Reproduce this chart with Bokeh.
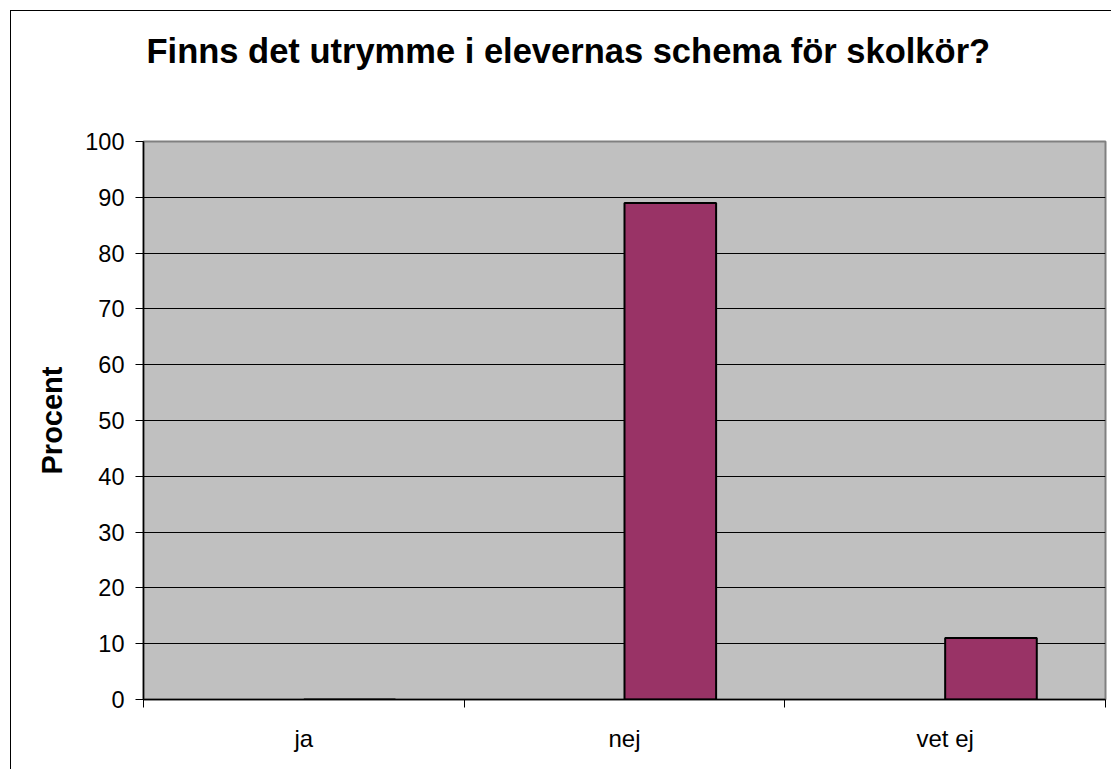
from bokeh.plotting import figure
from bokeh.models import Range1d, FixedTicker, ColumnDataSource, InlineStyleSheet, Title
from bokeh.transform import dodge
from bokeh.embed import file_html
from bokeh.resources import INLINE

title_text = "Finns det utrymme i elevernas schema för skolkör?"
categories = ["ja", "nej", "vet ej"]
percent = [0, 89, 11]
y_ticks = [0, 10, 20, 30, 40, 50, 60, 70, 80, 90, 100]
y_label = "Procent"

FONT = "Liberation Sans"
BAR_W = 0.2857

xs = [i + 0.5 for i in range(len(categories))]
src = ColumnDataSource(dict(x=xs, top=percent, cat=categories))

p = figure(width=1111, height=769, output_backend="svg", toolbar_location=None,
           x_range=Range1d(0, len(categories)), y_range=Range1d(0, 100),
           min_border_left=143, min_border_right=6, min_border_top=141, min_border_bottom=70)

p.background_fill_color = "#C0C0C0"
p.border_fill_color = "white"
p.outline_line_color = "#808080"
p.outline_line_width = 2

# bars sit in the right half of a two-slot cluster (first slot empty)
p.vbar(x=dodge("x", BAR_W / 2), top="top", width=BAR_W, bottom=0, source=src,
       fill_color="#993366", line_color="black", line_width=2)

# main title (outermost panel above the plot)
p.title.text = title_text
p.title.text_font = FONT
p.title.text_font_size = "34.5px"
p.title.text_font_style = "bold"
p.title.text_color = "black"
p.title.align = "left"
p.title.offset = 3
p.title.standoff = 0

# spacer between the plot area and the title
spacer = Title(text=" ", text_font_size="1px", standoff=69)
p.add_layout(spacer, "above")

# y axis
p.yaxis.ticker = FixedTicker(ticks=y_ticks)
p.yaxis.axis_label = y_label
p.yaxis.axis_label_text_font = FONT
p.yaxis.axis_label_text_font_size = "29px"
p.yaxis.axis_label_text_font_style = "bold"
p.yaxis.axis_label_text_color = "black"
p.yaxis.axis_label_standoff = 14
p.yaxis.major_label_text_font = FONT
p.yaxis.major_label_text_font_size = "23.5px"
p.yaxis.major_label_text_color = "black"
p.yaxis.major_label_standoff = 11
p.yaxis.major_tick_out = 8
p.yaxis.major_tick_in = 0
p.yaxis.minor_tick_line_color = None
p.yaxis.axis_line_color = "black"
p.yaxis.axis_line_width = 1.5
p.yaxis.major_tick_line_color = "black"

# x axis
bounds = list(range(len(categories) + 1))
p.xaxis.ticker = FixedTicker(ticks=xs, minor_ticks=bounds)
p.xaxis.major_label_overrides = {x: c for x, c in zip(xs, categories)}
p.xaxis.major_label_text_font = FONT
p.xaxis.major_label_text_font_size = "24px"
p.xaxis.major_label_text_color = "black"
p.xaxis.major_tick_line_color = None
p.xaxis.major_tick_out = 0
p.xaxis.major_tick_in = 0
p.xaxis.major_label_standoff = 17
p.xaxis.minor_tick_out = 8
p.xaxis.minor_tick_in = 0
p.xaxis.minor_tick_line_color = "black"
p.xaxis.axis_line_color = "black"
p.xaxis.axis_line_width = 1.5

p.xgrid.grid_line_color = None
p.ygrid.ticker = FixedTicker(ticks=y_ticks)
p.ygrid.grid_line_color = "black"
p.ygrid.grid_line_width = 1

# outer chart frame (left and top edges visible)
css = (":host { position: relative; }"
       ":host::after { content: ''; position: absolute; left: 10px; top: 10px; "
       "right: 0px; bottom: 0px; box-sizing: border-box; "
       "border-left: 1px solid black; border-top: 1px solid black; "
       "pointer-events: none; z-index: 100; }")
p.stylesheets = [InlineStyleSheet(css=css)]

open("out.html", "w").write(file_html(p, INLINE))
